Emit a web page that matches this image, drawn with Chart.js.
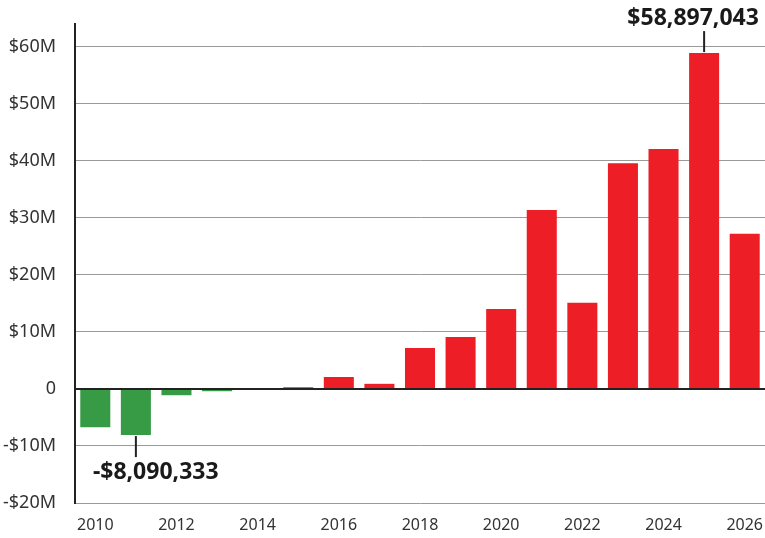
<!DOCTYPE html>
<html>
<head>
<meta charset="utf-8">
<script src="https://cdn.jsdelivr.net/npm/chart.js@4"></script>
<style>
  body { margin: 0; background: #fff; }
  #wrap { width: 765px; height: 538px; position: relative; }
</style>
</head>
<body>
<div id="wrap"><canvas id="chart" width="765" height="538"></canvas></div>
<script>
// Datos del gráfico
const years = ['2010', '2011', '2012', '2013', '2014', '2015', '2016', '2017', '2018',
               '2019', '2020', '2021', '2022', '2023', '2024', '2025', '2026'];
const values = [-6.7, -8.090333, -1.1, -0.4, 0, 0.3, 2.1, 0.9, 7.2,
                9.1, 14.0, 31.4, 15.1, 39.6, 42.1, 58.897043, 27.2];
const yTicks = [-20, -10, 0, 10, 20, 30, 40, 50, 60];
const callouts = [
    { index: 15, text: '$58,897,043' },
    { index: 1, text: '-$8,090,333' }
];

const GREEN = '#379b46';
const RED = '#ee1e27';

function tickLabel(v) {
    if (v === 0) return '0';
    return (v < 0 ? '-' : '') + '$' + Math.abs(v) + 'M';
}

// Línea de cero y anotaciones encima de las barras
const overlay = {
    id: 'overlay',
    afterDatasetsDraw(chart) {
        const ctx = chart.ctx;
        const y = chart.scales.y;
        const area = chart.chartArea;
        const meta = chart.getDatasetMeta(0);

        ctx.save();
        ctx.strokeStyle = '#222';
        ctx.lineWidth = 2;
        ctx.beginPath();
        ctx.moveTo(area.left, Math.round(y.getPixelForValue(0)));
        ctx.lineTo(area.right, Math.round(y.getPixelForValue(0)));
        ctx.stroke();

        ctx.font = 'bold 23px "Noto Sans"';
        ctx.fillStyle = '#1a1a1a';
        callouts.forEach(c => {
            const bar = meta.data[c.index];
            const v = values[c.index];
            ctx.lineWidth = 2;
            ctx.beginPath();
            if (v > 0) {
                ctx.moveTo(bar.x, bar.y - 1);
                ctx.lineTo(bar.x, bar.y - 22);
                ctx.stroke();
                ctx.textAlign = 'center';
                ctx.textBaseline = 'alphabetic';
                ctx.fillText(c.text, bar.x - 11, bar.y - 28);
            } else {
                ctx.moveTo(bar.x, bar.y + 1);
                ctx.lineTo(bar.x, bar.y + 22);
                ctx.stroke();
                ctx.textAlign = 'left';
                ctx.textBaseline = 'top';
                ctx.fillText(c.text, bar.x - 43, bar.y + 26);
            }
        });
        ctx.restore();
    }
};

new Chart(document.getElementById('chart'), {
    type: 'bar',
    data: {
        labels: years,
        datasets: [{
            data: values,
            backgroundColor: values.map(v => v < 0 ? GREEN : RED),
            borderWidth: 0,
            categoryPercentage: 0.74,
            barPercentage: 1
        }]
    },
    options: {
        responsive: false,
        animation: false,
        events: [],
        layout: { padding: { top: 24, right: 0, left: 0, bottom: 0 } },
        plugins: {
            legend: { display: false },
            tooltip: { enabled: false }
        },
        scales: {
            x: {
                grid: { display: false, drawTicks: false },
                border: { display: false },
                ticks: {
                    autoSkip: false,
                    maxRotation: 0,
                    padding: 13,
                    color: '#333',
                    font: { family: 'Noto Sans', size: 16 },
                    callback: (val, i) => (Number(years[i]) % 2 === 0 ? years[i] : '')
                },
                afterFit(scale) {
                    scale.height = 35;
                    scale.paddingLeft = 0;
                    scale.paddingRight = 0;
                }
            },
            y: {
                min: -20,
                max: 64,
                afterBuildTicks(scale) {
                    scale.ticks = yTicks.map(v => ({ value: v }));
                },
                grid: {
                    drawTicks: false,
                    color: '#9a9a9a',
                    lineWidth: 1
                },
                border: { display: true, color: '#222', width: 2 },
                ticks: {
                    padding: 19,
                    color: '#333',
                    font: { family: 'Noto Sans', size: 18 },
                    callback: v => tickLabel(v)
                },
                afterFit(scale) {
                    scale.width = 75;
                    scale.paddingTop = 0;
                    scale.paddingBottom = 0;
                }
            }
        }
    },
    plugins: [overlay]
});
</script>
</body>
</html>
